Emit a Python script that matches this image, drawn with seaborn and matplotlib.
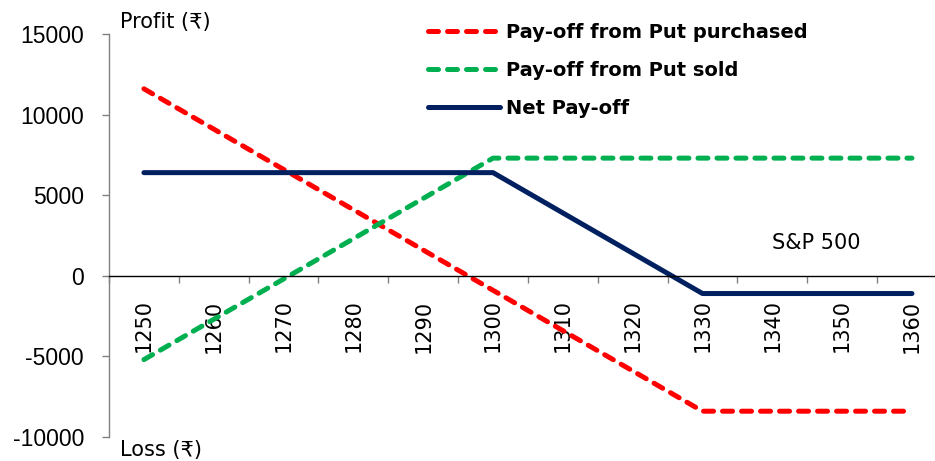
import numpy as np
import pandas as pd
import matplotlib
matplotlib.use("Agg")
import matplotlib.pyplot as plt
import seaborn as sns
from matplotlib.ticker import FixedLocator

# ---- data ----
prices = [1250, 1260, 1270, 1280, 1290, 1300, 1310, 1320, 1330, 1340, 1350, 1360]
put_purchased = [11600, 9100, 6600, 4100, 1600, -900, -3400, -5900, -8400, -8400, -8400, -8400]
put_sold = [-5200, -2700, -200, 2300, 4800, 7300, 7300, 7300, 7300, 7300, 7300, 7300]
net_payoff = [6400, 6400, 6400, 6400, 6400, 6400, 3900, 1400, -1100, -1100, -1100, -1100]
series_names = ["Pay-off from Put purchased", "Pay-off from Put sold", "Net Pay-off"]
y_ticks = [-10000, -5000, 0, 5000, 10000, 15000]
x_labels = [str(p) for p in prices]

sns.set_style("white")
plt.rcParams['font.family'] = ['DejaVu Sans', 'Noto Sans']
plt.rcParams['text.color'] = 'black'
plt.rcParams['xtick.color'] = 'black'
plt.rcParams['ytick.color'] = 'black'
plt.rcParams['axes.labelcolor'] = 'black'

fig = plt.figure(figsize=(9.35, 4.61), dpi=100)
ax = fig.add_axes([109/935, 24/461, 1 - 109/935, (437-34)/461])

df = pd.DataFrame({
    "price": prices * 3,
    "value": put_purchased + put_sold + net_payoff,
    "series": [series_names[0]] * 12 + [series_names[1]] * 12 + [series_names[2]] * 12,
})
palette = {series_names[0]: "#FF0000", series_names[1]: "#00B050", series_names[2]: "#002060"}
dashes = {series_names[0]: (2.0, 1.8), series_names[1]: (2.0, 1.8), series_names[2]: ""}
LW = 3.6

sns.lineplot(data=df, x="price", y="value", hue="series", style="series",
             palette=palette, dashes=dashes, linewidth=LW, ax=ax, legend=True)
for ln in ax.get_lines():
    ln.set_dash_capstyle("round")
    ln.set_solid_capstyle("round")

ax.set_xlim(1245, 1363.3)
ax.set_ylim(-10000, 15000)
ax.set_xlabel("")
ax.set_ylabel("")

# spines
for s in ["top", "right"]:
    ax.spines[s].set_visible(False)
ax.spines["left"].set_color("#808080")
ax.spines["left"].set_linewidth(1.0)
ax.spines["bottom"].set_position(("data", 0))
ax.spines["bottom"].set_color("black")
ax.spines["bottom"].set_linewidth(1.0)

# y ticks
ax.set_yticks(y_ticks)
ax.set_yticklabels([str(v) for v in y_ticks], fontfamily="Liberation Sans", fontsize=16.5)
ax.tick_params(axis="y", which="major", left=True, length=5, color="#808080", width=1, pad=13,
               labelcolor="black")

# x ticks: labels at centers, tick marks at boundaries
ax.set_xticks(prices)
ax.set_xticklabels(x_labels, rotation=90, fontsize=15)
ax.tick_params(axis="x", which="major", length=0, pad=17, bottom=True, labelcolor="black")
ax.xaxis.set_minor_locator(FixedLocator([p - 5 for p in prices] + [prices[-1] + 5]))
ax.tick_params(axis="x", which="minor", bottom=True, length=5, color="#808080", width=1, direction="out")
for lbl in ax.get_xticklabels():
    lbl.set_va("top")

# texts
fig.text(120/935, 1 - 22/461, "Profit (₹)", fontsize=15, va="center", ha="left", color="black")
fig.text(120/935, 1 - 450/461, "Loss (₹)", fontsize=15, va="center", ha="left", color="black")
ax.text(1352.6, 2050, "S&P 500", fontsize=15, ha="right", va="center", color="black")

# legend
handles, labels = ax.get_legend_handles_labels()
leg = ax.legend(handles, labels, loc="upper left", bbox_to_anchor=(428/935, 1 - 23/461),
                bbox_transform=fig.transFigure, frameon=False, handlelength=3.7,
                handletextpad=0.3, labelspacing=0.98, borderpad=0, borderaxespad=0,
                prop={"weight": "bold", "size": 14})
for t in leg.get_texts():
    t.set_color("black")
for h in leg.get_lines():
    h.set_linewidth(LW)
    h.set_dash_capstyle("round")
    h.set_solid_capstyle("round")

fig.savefig("out.png", dpi=100)
